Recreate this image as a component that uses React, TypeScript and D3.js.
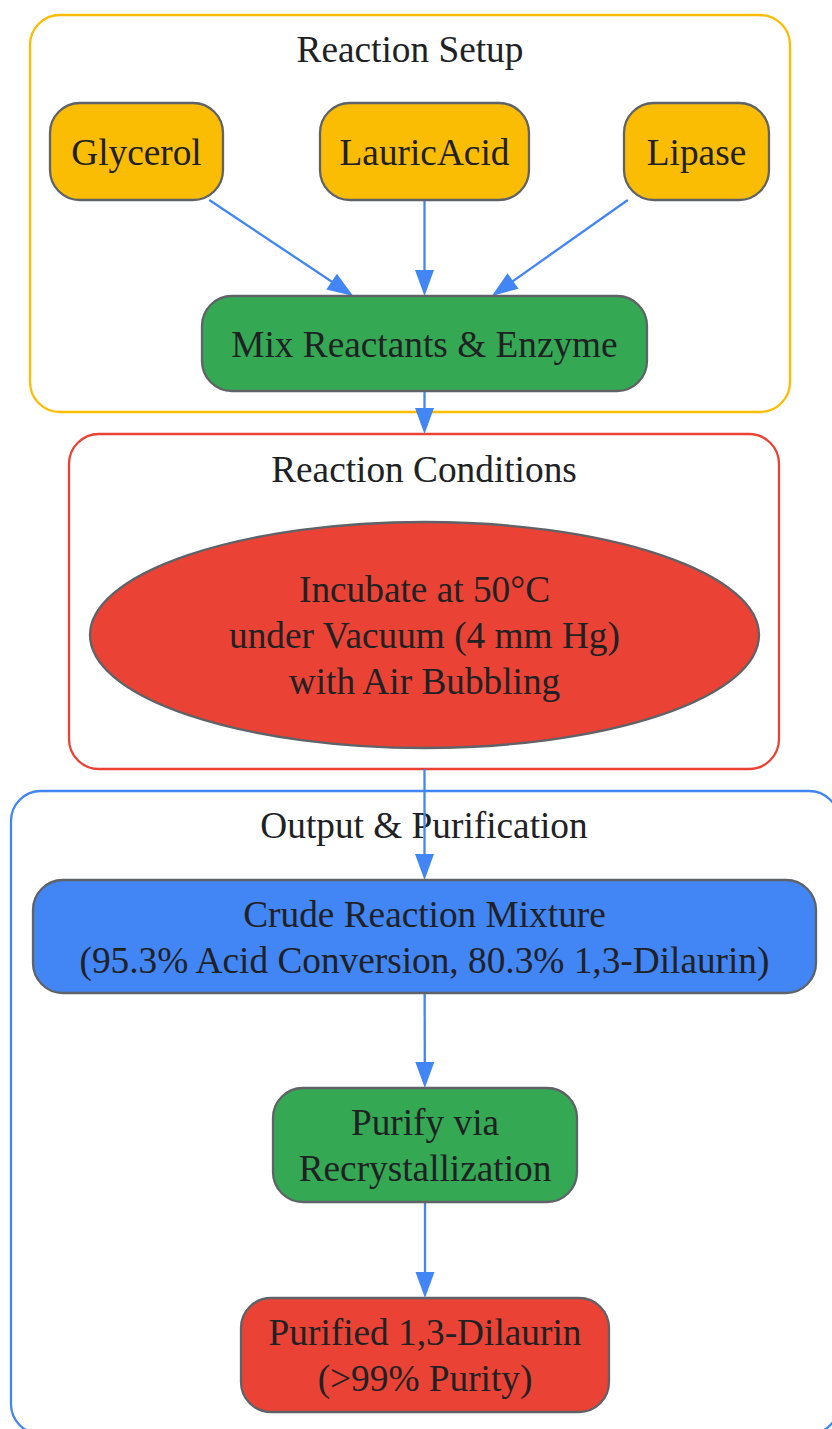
import React, { useEffect, useRef } from "react";
import * as d3 from "d3";

// ---------- data ----------
const clusterIds = ["setup", "conditions", "output"];
const clusterTitles = ["Reaction Setup", "Reaction Conditions", "Output & Purification"];

const nodeIds = ["Glycerol", "LauricAcid", "Lipase", "Mix", "Incubate", "Crude", "Purify", "Purified"];
const nodeLabels = [
  ["Glycerol"],
  ["LauricAcid"],
  ["Lipase"],
  ["Mix Reactants & Enzyme"],
  ["Incubate at 50°C", "under Vacuum (4 mm Hg)", "with Air Bubbling"],
  ["Crude Reaction Mixture", "(95.3% Acid Conversion, 80.3% 1,3-Dilaurin)"],
  ["Purify via", "Recrystallization"],
  ["Purified 1,3-Dilaurin", "(>99% Purity)"],
];
const nodeClusters = ["setup", "setup", "setup", "setup", "conditions", "output", "output", "output"];

const edgeSources = ["Glycerol", "LauricAcid", "Lipase", "Mix", "Incubate", "Crude", "Purify"];
const edgeTargets = ["Mix", "Mix", "Mix", "Incubate", "Crude", "Purify", "Purified"];

// ---------- layout & style (separate from data) ----------
const W = 832;
const H = 1429;
const FONT = "'Liberation Serif', 'Times New Roman', serif";
const FS = 37.3;
const LINE_H = 46;
const TEXT = "#202124";
const NODE_STROKE = "#5f6368";
const EDGE = "#4285f4";

const clusterBox: Record<string, { x0: number; y0: number; x1: number; y1: number; color: string; titleY: number; titleX: number }> = {
  setup: { x0: 30, y0: 15, x1: 790, y1: 412, color: "#fbbc04", titleY: 49, titleX: 410 },
  conditions: { x0: 69, y0: 434, x1: 779, y1: 769, color: "#ea4335", titleY: 469, titleX: 424 },
  output: { x0: 11, y0: 791, x1: 839, y1: 1434, color: "#4285f4", titleY: 825, titleX: 424 },
};

const nodeBox: Record<string, { x0: number; y0: number; x1: number; y1: number; fill: string; shape: string }> = {
  Glycerol: { x0: 50, y0: 103, x1: 223, y1: 200, fill: "#fbbc04", shape: "round" },
  LauricAcid: { x0: 320, y0: 103, x1: 529, y1: 200, fill: "#fbbc04", shape: "round" },
  Lipase: { x0: 624, y0: 103, x1: 769, y1: 200, fill: "#fbbc04", shape: "round" },
  Mix: { x0: 202, y0: 296, x1: 647, y1: 391, fill: "#34a853", shape: "round" },
  Incubate: { x0: 90, y0: 522, x1: 759, y1: 748, fill: "#ea4335", shape: "ellipse" },
  Crude: { x0: 33, y0: 880, x1: 816, y1: 993, fill: "#4285f4", shape: "round" },
  Purify: { x0: 273, y0: 1088, x1: 577, y1: 1202, fill: "#34a853", shape: "round" },
  Purified: { x0: 241, y0: 1298, x1: 609, y1: 1412, fill: "#ea4335", shape: "round" },
};

// clip edges at node or enclosing cluster border
const edgeClip: Record<string, { start: "node" | "cluster"; end: "node" | "cluster" }> = {
  "Mix>Incubate": { start: "node", end: "cluster" },
  "Incubate>Crude": { start: "cluster", end: "node" },
};

export default function App() {
  const ref = useRef<SVGSVGElement | null>(null);

  useEffect(() => {
    const svg = d3.select(ref.current);
    svg.selectAll("*").remove();

    // clusters
    const cg = svg.append("g");
    clusterIds.forEach((id, i) => {
      const b = clusterBox[id];
      cg.append("rect")
        .attr("x", b.x0).attr("y", b.y0)
        .attr("width", b.x1 - b.x0).attr("height", b.y1 - b.y0)
        .attr("rx", 30).attr("ry", 30)
        .attr("fill", "none").attr("stroke", b.color).attr("stroke-width", 2.3);
      cg.append("text")
        .attr("x", b.titleX).attr("y", b.titleY).attr("dy", "0.35em")
        .attr("text-anchor", "middle")
        .attr("font-family", FONT).attr("font-size", FS).attr("fill", TEXT)
        .text(clusterTitles[i]);
    });

    // edges
    const eg = svg.append("g");
    const center = (id: string) => {
      const b = nodeBox[id];
      return [(b.x0 + b.x1) / 2, (b.y0 + b.y1) / 2];
    };
    edgeSources.forEach((s, i) => {
      const t = edgeTargets[i];
      const key = `${s}>${t}`;
      const clip = edgeClip[key] || { start: "node", end: "node" };
      const [sx, sy] = center(s);
      const [tx, ty] = center(t);
      const sBox = clip.start === "cluster" ? clusterBox[nodeClusters[nodeIds.indexOf(s)]] : nodeBox[s];
      const tBox = clip.end === "cluster" ? clusterBox[nodeClusters[nodeIds.indexOf(t)]] : nodeBox[t];
      const yStart = sBox.y1;
      const yEnd = tBox.y0;
      const xAt = (y: number) => sx + ((y - sy) / (ty - sy)) * (tx - sx);
      const p0 = [xAt(yStart), yStart];
      const p1 = [xAt(yEnd), yEnd];
      const dx = p1[0] - p0[0];
      const dy = p1[1] - p0[1];
      const len = Math.hypot(dx, dy);
      const ux = dx / len, uy = dy / len;
      const headL = 26, headW = 9.5;
      const base = [p1[0] - ux * headL, p1[1] - uy * headL];
      eg.append("path")
        .attr("d", d3.line()([p0 as [number, number], [p1[0] - ux * 4, p1[1] - uy * 4]]))
        .attr("stroke", EDGE).attr("stroke-width", 2.3).attr("fill", "none");
      eg.append("path")
        .attr("d", d3.line()([
          [p1[0], p1[1]],
          [base[0] - uy * headW, base[1] + ux * headW],
          [base[0] + uy * headW, base[1] - ux * headW],
        ]) + "Z")
        .attr("fill", EDGE).attr("stroke", "none");
    });

    // nodes
    const ng = svg.append("g");
    nodeIds.forEach((id, i) => {
      const b = nodeBox[id];
      const cx = (b.x0 + b.x1) / 2, cy = (b.y0 + b.y1) / 2;
      if (b.shape === "ellipse") {
        ng.append("ellipse")
          .attr("cx", cx).attr("cy", cy)
          .attr("rx", (b.x1 - b.x0) / 2).attr("ry", (b.y1 - b.y0) / 2)
          .attr("fill", b.fill).attr("stroke", NODE_STROKE).attr("stroke-width", 2.3);
      } else {
        ng.append("rect")
          .attr("x", b.x0).attr("y", b.y0)
          .attr("width", b.x1 - b.x0).attr("height", b.y1 - b.y0)
          .attr("rx", 30).attr("ry", 30)
          .attr("fill", b.fill).attr("stroke", NODE_STROKE).attr("stroke-width", 2.3);
      }
      const lines = nodeLabels[i];
      const t = ng.append("text")
        .attr("text-anchor", "middle")
        .attr("font-family", FONT).attr("font-size", FS).attr("fill", TEXT);
      lines.forEach((ln, k) => {
        t.append("tspan")
          .attr("x", cx)
          .attr("y", cy + (k - (lines.length - 1) / 2) * LINE_H)
          .attr("dy", "0.36em")
          .text(ln);
      });
    });
  }, []);

  return (
    <svg
      ref={ref}
      width={W}
      height={H}
      style={{ position: "absolute", left: 0, top: 0, display: "block", background: "#fff" }}
    />
  );
}
